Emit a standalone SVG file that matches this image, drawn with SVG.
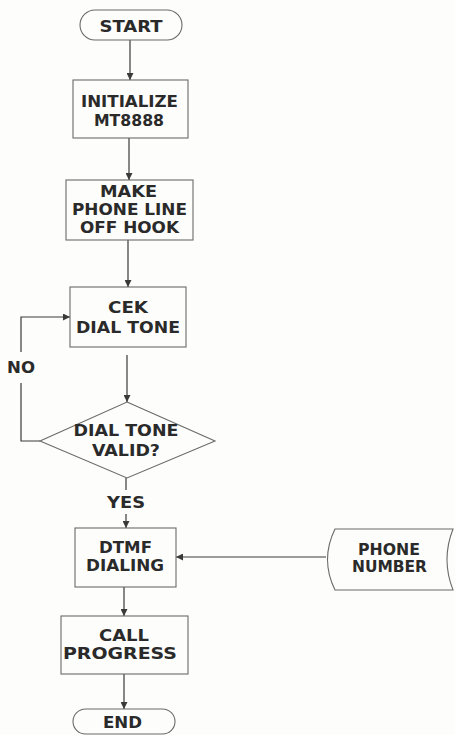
<svg xmlns="http://www.w3.org/2000/svg" width="455" height="735" viewBox="0 0 455 735">
<style>
.bg{fill:#fdfdfb}
.shape{fill:#fdfdfb;stroke:#6a6a6a;stroke-width:1.1}
.line{fill:none;stroke:#3a3a3a;stroke-width:1.2}
text{font-family:"DejaVu Sans","Liberation Sans",sans-serif;font-weight:bold;font-size:15.5px;fill:#2a2a2a;text-anchor:middle}
</style>
<defs>
<marker id="arr" viewBox="0 0 8 8" refX="8" refY="4" markerWidth="7" markerHeight="7" orient="auto" markerUnits="userSpaceOnUse">
<path d="M0,0 L8,4 L0,8 Z" fill="#3a3a3a"/>
</marker>
</defs>
<rect class="bg" x="0" y="0" width="455" height="735"/>
<g id="connectors">
<line class="line" x1="130" y1="40" x2="130" y2="80" marker-end="url(#arr)"/>
<line class="line" x1="129" y1="138" x2="129" y2="180" marker-end="url(#arr)"/>
<line class="line" x1="128" y1="240" x2="128" y2="287" marker-end="url(#arr)"/>
<line class="line" x1="127" y1="355" x2="127" y2="402" marker-end="url(#arr)"/>
<polyline class="line" points="40,441 21,441 21,383"/>
<polyline class="line" points="21,352 21,317 70,317" marker-end="url(#arr)"/>
<line class="line" x1="126" y1="478" x2="126" y2="490"/>
<line class="line" x1="126" y1="514" x2="126" y2="528" marker-end="url(#arr)"/>
<line class="line" x1="124" y1="587" x2="124" y2="616" marker-end="url(#arr)"/>
<line class="line" x1="124" y1="674" x2="124" y2="709" marker-end="url(#arr)"/>
<line class="line" x1="326" y1="557" x2="176" y2="557" marker-end="url(#arr)"/>
<text x="21" y="373" textLength="28" lengthAdjust="spacingAndGlyphs">NO</text>
<text x="126" y="508" textLength="38" lengthAdjust="spacingAndGlyphs">YES</text>
</g>
<g id="start">
<rect class="shape" x="80" y="10" width="102" height="30" rx="15" ry="15"/>
<text x="131" y="31.5" textLength="63" lengthAdjust="spacingAndGlyphs">START</text>
</g>
<g id="initialize">
<rect class="shape" x="73" y="80" width="115" height="58"/>
<text x="129.5" y="106.5" textLength="97" lengthAdjust="spacingAndGlyphs">INITIALIZE</text>
<text x="129" y="125.5" textLength="70" lengthAdjust="spacingAndGlyphs">MT8888</text>
</g>
<g id="offhook">
<rect class="shape" x="66" y="180" width="127" height="60"/>
<text x="128.5" y="196.5" textLength="57" lengthAdjust="spacingAndGlyphs">MAKE</text>
<text x="129.5" y="214.5" textLength="115" lengthAdjust="spacingAndGlyphs">PHONE LINE</text>
<text x="129.5" y="233" textLength="99" lengthAdjust="spacingAndGlyphs">OFF HOOK</text>
</g>
<g id="cek">
<rect class="shape" x="70" y="287" width="116" height="60"/>
<text x="128" y="313" textLength="40" lengthAdjust="spacingAndGlyphs">CEK</text>
<text x="128" y="333" textLength="104" lengthAdjust="spacingAndGlyphs">DIAL TONE</text>
</g>
<g id="valid">
<polygon class="shape" points="127,402 215,441 127,478 40,441"/>
<text x="126" y="436" textLength="105" lengthAdjust="spacingAndGlyphs">DIAL TONE</text>
<text x="126" y="456" textLength="68" lengthAdjust="spacingAndGlyphs">VALID?</text>
</g>
<g id="dtmf">
<rect class="shape" x="75" y="528" width="101" height="59"/>
<text x="125.5" y="553" textLength="53" lengthAdjust="spacingAndGlyphs">DTMF</text>
<text x="125" y="571" textLength="78" lengthAdjust="spacingAndGlyphs">DIALING</text>
</g>
<g id="phone">
<path class="shape" d="M335,529 H453 Q441,559.5 453,590 H335 Q320,559.5 335,529 Z"/>
<text x="389" y="555" textLength="62" lengthAdjust="spacingAndGlyphs">PHONE</text>
<text x="389.5" y="572" textLength="75" lengthAdjust="spacingAndGlyphs">NUMBER</text>
</g>
<g id="call">
<rect class="shape" x="61" y="616" width="127" height="58"/>
<text x="124" y="641" textLength="50" lengthAdjust="spacingAndGlyphs">CALL</text>
<text x="120" y="659" textLength="114" lengthAdjust="spacingAndGlyphs">PROGRESS</text>
</g>
<g id="end">
<rect class="shape" x="73" y="709" width="102" height="25" rx="12.5" ry="12.5"/>
<text x="122.5" y="727.5" textLength="39" lengthAdjust="spacingAndGlyphs">END</text>
</g>
</svg>
